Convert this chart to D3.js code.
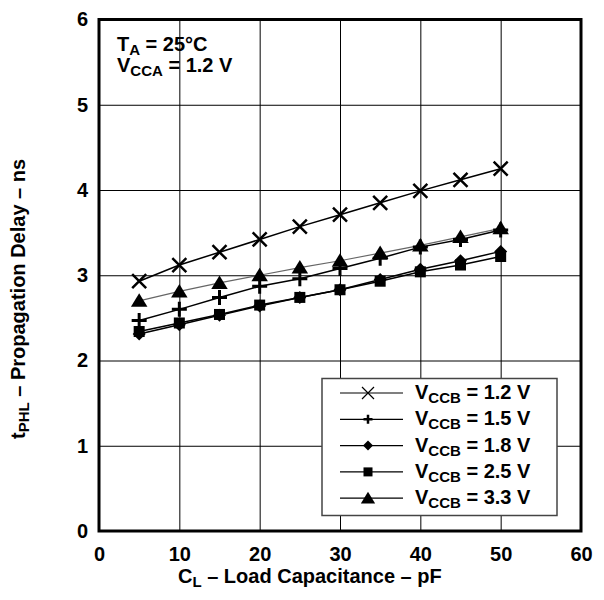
<!DOCTYPE html>
<html>
<head>
<meta charset="utf-8">
<script src="https://cdn.jsdelivr.net/npm/d3@7/dist/d3.min.js"></script>
<style>
    body { margin: 0; background: #fff; }
    svg text { font-family: 'Liberation Sans', Arial, sans-serif; font-weight: bold; fill: #000; }
</style>
</head>
<body>
<div id="container"></div>
<script>
'use strict';

// values
const loadCap = [5, 10, 15, 20, 25, 30, 35, 40, 45, 50];
const vccb12 = [2.93, 3.12, 3.27, 3.42, 3.57, 3.71, 3.85, 3.99, 4.12, 4.25];
const vccb15 = [2.47, 2.60, 2.74, 2.87, 2.96, 3.08, 3.20, 3.33, 3.42, 3.53];
const vccb18 = [2.31, 2.42, 2.53, 2.64, 2.74, 2.83, 2.95, 3.07, 3.17, 3.28];
const vccb25 = [2.34, 2.44, 2.54, 2.65, 2.74, 2.83, 2.93, 3.04, 3.12, 3.22];
const vccb33 = [2.70, 2.81, 2.91, 3.00, 3.09, 3.17, 3.26, 3.35, 3.45, 3.55];
const seriesNames = ['1.2 V', '1.5 V', '1.8 V', '2.5 V', '3.3 V'];
const xTicks = [0, 10, 20, 30, 40, 50, 60];
const yTicks = [0, 1, 2, 3, 4, 5, 6];

const w = 604;
const h = 600;
const plotLeft = 99;
const plotRight = 581;
const plotTop = 19.5;
const plotBottom = 531;

const svg = d3.select('#container')
                .append('svg')
                .attr('width', w)
                .attr('height', h)
                .attr('viewBox', '0 0 ' + w + ' ' + h);

const xScale = d3.scaleLinear().domain([0, 60]).range([plotLeft, plotRight]);
const yScale = d3.scaleLinear().domain([0, 6]).range([plotBottom, plotTop]);

// grid + tick labels
const xAxis = d3.axisBottom(xScale)
                .tickValues(xTicks)
                .tickFormat(d3.format('d'))
                .tickSize(-(plotBottom - plotTop))
                .tickPadding(16);
const yAxis = d3.axisLeft(yScale)
                .tickValues(yTicks)
                .tickFormat(d3.format('d'))
                .tickSize(-(plotRight - plotLeft))
                .tickPadding(11);

const gx = svg.append('g')
    .attr('transform', 'translate(0, ' + plotBottom + ')')
    .call(xAxis);
const gy = svg.append('g')
    .attr('transform', 'translate(' + plotLeft + ', 0)')
    .call(yAxis);

[gx, gy].forEach((g) => {
    g.select('.domain').remove();
    g.selectAll('line').attr('stroke', '#000').attr('stroke-width', 1);
    g.selectAll('text').attr('font-size', 20);
});

// series lines + markers
const series = [
    { name: seriesNames[0], values: vccb12, marker: 'cross', color: '#000', width: 1.5 },
    { name: seriesNames[1], values: vccb15, marker: 'plus', color: '#000', width: 1.5 },
    { name: seriesNames[2], values: vccb18, marker: 'diamond', color: '#000', width: 1.5 },
    { name: seriesNames[3], values: vccb25, marker: 'square', color: '#000', width: 1.5 },
    { name: seriesNames[4], values: vccb33, marker: 'triangle', color: '#666', width: 1.2 }
];

const line = d3.line()
                .x((d) => xScale(d[0]))
                .y((d) => yScale(d[1]));

function drawMarker(g, type, cx, cy, s) {
    if (type === 'cross') {
        g.append('path')
            .attr('d', 'M' + (cx - s) + ',' + (cy - s) + 'L' + (cx + s) + ',' + (cy + s) +
                       'M' + (cx - s) + ',' + (cy + s) + 'L' + (cx + s) + ',' + (cy - s))
            .attr('stroke', '#000')
            .attr('stroke-width', s > 6 ? 2.5 : 1.2)
            .attr('fill', 'none');
    } else if (type === 'plus') {
        g.append('path')
            .attr('d', 'M' + (cx - s) + ',' + cy + 'L' + (cx + s) + ',' + cy +
                       'M' + cx + ',' + (cy - s) + 'L' + cx + ',' + (cy + s))
            .attr('stroke', '#000')
            .attr('stroke-width', s > 5 ? 3 : 2.5)
            .attr('fill', 'none');
    } else if (type === 'diamond') {
        g.append('path')
            .attr('d', 'M' + cx + ',' + (cy - s) + 'L' + (cx + s) + ',' + cy +
                       'L' + cx + ',' + (cy + s) + 'L' + (cx - s) + ',' + cy + 'Z')
            .attr('fill', '#000');
    } else if (type === 'square') {
        g.append('rect')
            .attr('x', cx - s)
            .attr('y', cy - s)
            .attr('width', 2 * s)
            .attr('height', 2 * s)
            .attr('fill', '#000');
    } else {
        g.append('path')
            .attr('d', 'M' + cx + ',' + (cy - s) + 'L' + (cx + s * 1.1) + ',' + (cy + s * 0.8) +
                       'L' + (cx - s * 1.1) + ',' + (cy + s * 0.8) + 'Z')
            .attr('fill', '#000');
    }
}

const plotSize = { cross: 7, plus: 7.5, diamond: 6.5, square: 5.5, triangle: 7.5 };

series.forEach((s) => {
    const pts = loadCap.map((c, i) => [c, s.values[i]]);
    svg.append('path')
        .attr('d', line(pts))
        .attr('fill', 'none')
        .attr('stroke', s.color)
        .attr('stroke-width', s.width);
});
series.forEach((s) => {
    const g = svg.append('g');
    loadCap.forEach((c, i) => {
        drawMarker(g, s.marker, xScale(c), yScale(s.values[i]), plotSize[s.marker]);
    });
});

// frame
svg.append('rect')
    .attr('x', plotLeft)
    .attr('y', plotTop)
    .attr('width', plotRight - plotLeft)
    .attr('height', plotBottom - plotTop)
    .attr('fill', 'none')
    .attr('stroke', '#000')
    .attr('stroke-width', 3);

// legend
const legend = svg.append('g');
legend.append('rect')
    .attr('x', 322)
    .attr('y', 378.5)
    .attr('width', 235)
    .attr('height', 137)
    .attr('fill', '#fff')
    .attr('stroke', '#444')
    .attr('stroke-width', 1.5);

const legendSize = { cross: 6, plus: 4.5, diamond: 5, square: 4.5, triangle: 6.5 };

series.forEach((s, i) => {
    const cy = 393 + i * 26.3;
    legend.append('line')
        .attr('x1', 340)
        .attr('x2', 403)
        .attr('y1', cy)
        .attr('y2', cy)
        .attr('stroke', '#000')
        .attr('stroke-width', 1.2);
    drawMarker(legend, s.marker, 368, cy, legendSize[s.marker]);
    const t = legend.append('text')
        .attr('x', 415)
        .attr('y', cy + 6)
        .attr('font-size', 20);
    t.append('tspan').text('V');
    t.append('tspan').attr('font-size', 15).attr('dy', 4).text('CCB');
    t.append('tspan').attr('dy', -4).text(' = ' + s.name);
});

// conditions note
const note1 = svg.append('text').attr('x', 117).attr('y', 51).attr('font-size', 20);
note1.append('tspan').text('T');
note1.append('tspan').attr('font-size', 15).attr('dy', 4).text('A');
note1.append('tspan').attr('dy', -4).text(' = 25\u00B0C');

const note2 = svg.append('text').attr('x', 117).attr('y', 72).attr('font-size', 20);
note2.append('tspan').text('V');
note2.append('tspan').attr('font-size', 15).attr('dy', 4).text('CCA');
note2.append('tspan').attr('dy', -4).text(' = 1.2 V');

// axis titles
const xTitle = svg.append('text').attr('x', 178).attr('y', 583).attr('font-size', 20);
xTitle.append('tspan').text('C');
xTitle.append('tspan').attr('font-size', 15).attr('dy', 4).text('L');
xTitle.append('tspan').attr('dy', -4).text(' \u2013 Load Capacitance \u2013 pF');

const yTitle = svg.append('text')
    .attr('transform', 'translate(25, 439) rotate(-90)')
    .attr('font-size', 20);
yTitle.append('tspan').text('t');
yTitle.append('tspan').attr('font-size', 15).attr('dy', 4).text('PHL');
yTitle.append('tspan').attr('dy', -4).text(' \u2013 Propagation Delay \u2013 ns');
</script>
</body>
</html>
